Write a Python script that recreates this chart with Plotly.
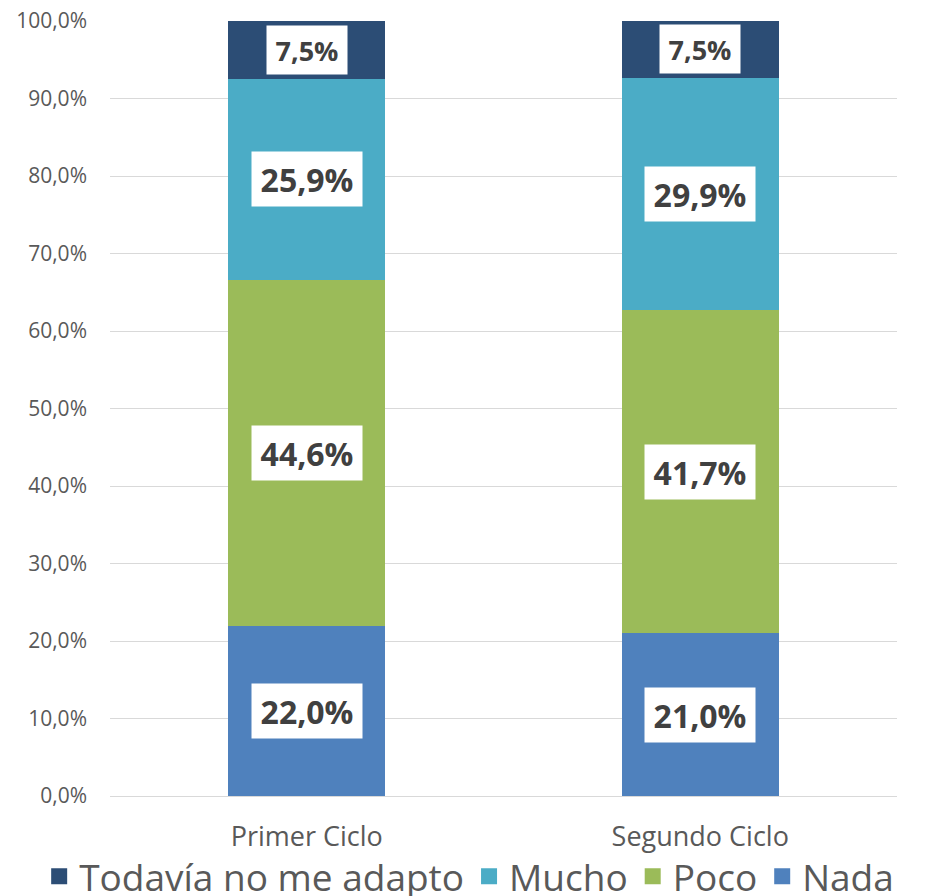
import plotly.graph_objects as go

categories = ["Primer Ciclo", "Segundo Ciclo"]
series_names = ["Nada", "Poco", "Mucho", "Todavía no me adapto"]
nada = [22.0, 21.0]
poco = [44.6, 41.7]
mucho = [25.9, 29.9]
todavia = [7.5, 7.5]
tick_vals = [0, 10, 20, 30, 40, 50, 60, 70, 80, 90, 100]
tick_text = [f"{v:.1f}".replace(".", ",") + "%" for v in tick_vals]

series_values = [nada, poco, mucho, todavia]
colors = ["#4F81BD", "#9BBB59", "#4BACC6", "#2C4D75"]
label_sizes = [32, 32, 32, 27]

FONT = "Open Sans"
fig = go.Figure()
for name, vals, col in zip(series_names, series_values, colors):
    fig.add_trace(go.Bar(
        x=categories, y=vals, name=name, marker=dict(color=col, line=dict(width=0)),
        hoverinfo="skip", showlegend=False,
    ))
# legend entries with larger square swatches
for name, col in zip(series_names, colors):
    fig.add_trace(go.Scatter(
        x=[None], y=[None], mode="markers", name=name,
        marker=dict(symbol="square", size=16, color=col, line=dict(width=0)),
        hoverinfo="skip", showlegend=True,
    ))

annotations = []
for i, cat in enumerate(categories):
    base = 0.0
    for vals, fs in zip(series_values, label_sizes):
        v = vals[i]
        big = fs > 28
        annotations.append(dict(
            x=cat, y=base + v / 2, xref="x", yref="y", showarrow=False,
            text="<b>" + f"{v:.1f}".replace(".", ",") + "%</b>",
            font=dict(family=FONT, size=fs, color="#404040"),
            bgcolor="white", borderpad=5,
            width=100 if big else 70, height=44 if big else 38, align="center",
        ))
        base += v

fig.update_layout(
    barmode="stack",
    bargap=0.6,
    width=919, height=888,
    margin=dict(l=102, r=30, t=13, b=100, autoexpand=False),
    paper_bgcolor="white", plot_bgcolor="white",
    font=dict(family=FONT, color="#595959"),
    annotations=annotations,
    showlegend=True,
    legend=dict(
        orientation="h", traceorder="reversed",
        x=-0.09, xanchor="left", y=-0.104, yanchor="middle",
        bgcolor="rgba(0,0,0,0)",
        font=dict(family=FONT, size=37, color="#595959"),
        tracegroupgap=0, itemwidth=30,
    ),
    xaxis=dict(
        showgrid=False, showline=False, ticks="",
        tickfont=dict(family=FONT, size=27, color="#595959"),
        ticklabelstandoff=22,
    ),
    yaxis=dict(
        range=[0, 100], tickvals=tick_vals, ticktext=tick_text,
        showgrid=True, gridcolor="#D9D9D9", gridwidth=1,
        zeroline=True, zerolinecolor="#D9D9D9", zerolinewidth=1,
        showline=False, ticks="", ticklabeloverflow="allow",
        tickfont=dict(family=FONT, size=21, color="#595959"),
        ticklabelstandoff=22,
    ),
)

fig.write_html("out.html")
